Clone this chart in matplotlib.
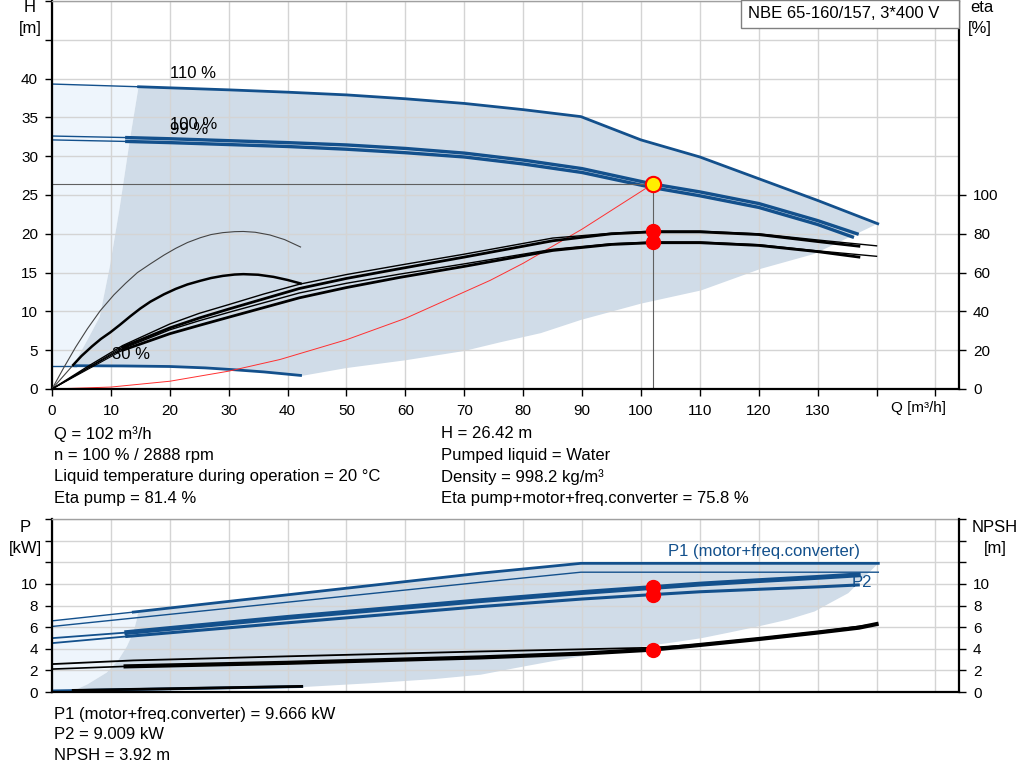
import matplotlib
matplotlib.use('Agg')
from matplotlib import pyplot as plt
from matplotlib.patches import Rectangle

plt.rcParams['font.family'] = ['Liberation Sans', 'DejaVu Sans']
plt.rcParams['font.size'] = 12

blue = '#13508c'
shade = '#d0dce8'
light = '#eef5fc'
gridc = '#d4d4d4'

# ---- head curves (Q m3/h, H m)
q110 = [0, 14.7, 30, 40, 50, 60, 70, 80, 89.8, 100, 110, 120, 130, 140.2]
h110 = [39.3, 38.95, 38.55, 38.25, 37.9, 37.4, 36.8, 36.0, 35.1, 32.1, 29.9, 27.1, 24.3, 21.3]
q100_thin = [0, 12.7]
h100_thin = [32.6, 32.4]
q100 = [12.7, 20, 30, 40, 50, 60, 70, 80, 90, 102, 110, 120, 130, 136.7]
h100 = [32.4, 32.25, 32.0, 31.75, 31.45, 31.0, 30.4, 29.5, 28.4, 26.42, 25.4, 23.9, 21.7, 20.0]
q99_thin = [0, 12.7]
h99_thin = [32.1, 31.9]
q99 = [12.7, 20, 30, 40, 50, 60, 70, 80, 90, 102, 110, 120, 130, 135.9]
h99 = [31.9, 31.75, 31.5, 31.25, 30.9, 30.45, 29.9, 29.0, 27.9, 25.95, 24.9, 23.4, 21.2, 19.6]
q30_thin = [0, 4]
h30_thin = [3.0, 3.0]
q30 = [4, 12, 20, 26, 30.6, 36, 42.2]
h30 = [3.0, 2.97, 2.9, 2.72, 2.5, 2.2, 1.75]

# operating range boundaries
q_low = [42.5, 50, 60, 70, 76, 83, 89.8, 100, 110.2, 120.4, 129.4, 140.2]
h_low = [1.7, 2.7, 3.7, 4.9, 6.0, 7.2, 8.9, 11.0, 12.7, 15.5, 17.4, 21.3]
q_left = [3.6, 6, 8.1, 9.8, 11.5, 13.2, 14.7]
h_left = [3.0, 6.3, 9.3, 15.7, 23.4, 32.0, 38.95]

# system curve
q_sys = [0, 10, 20, 30, 38.7, 50, 60, 74.4, 80, 90, 102]
h_sys = [0, 0.25, 1.0, 2.3, 3.8, 6.35, 9.1, 14.0, 16.2, 20.6, 26.42]

# efficiency curves (eta %)
q_ep100 = [0, 6, 12, 20, 25, 30, 36, 42, 50, 59, 70, 85, 95, 102, 110, 120, 130, 140]
e_ep100 = [0, 11.5, 22.4, 33.5, 39, 43.5, 49, 54, 59, 63.8, 69.5, 77.8, 80.3, 81.4, 81.4, 80.0, 76.8, 73.8]
q_ep99 = [12, 20, 25, 30, 36, 42, 50, 59, 70, 85, 95, 102, 110, 120, 130, 137]
e_ep99 = [21.6, 31.5, 36.6, 41.2, 46.5, 51.8, 57, 62, 68, 76.4, 80, 81.0, 81.0, 79.6, 76.0, 73.6]
q_et100 = [0, 6, 12, 20, 25, 30, 36, 42, 50, 59, 70, 85, 95, 102, 110, 120, 130, 140]
e_et100 = [0, 10.6, 20.8, 30.5, 35.2, 39.5, 44.5, 49.5, 54.5, 59.2, 64.5, 72, 74.9, 75.8, 75.8, 74.4, 71.2, 68.4]
q_et99 = [12, 20, 25, 30, 36, 42, 50, 59, 70, 85, 95, 102, 110, 120, 130, 137]
e_et99 = [20.0, 28.5, 32.8, 37, 42, 47, 52.3, 57.5, 63.2, 71.4, 74.5, 75.4, 75.4, 74.0, 70.8, 68.0]
q_ep30 = [0, 2, 4, 6, 8.2, 10.5, 12.5, 14.5, 16.7, 19, 21, 23, 25.2, 27, 29, 31, 32.5, 34.5, 37, 39.5, 42.2]
e_ep30 = [0, 11, 21.5, 31, 40.4, 48.5, 54.5, 60, 64.5, 69, 72.5, 75.5, 78, 79.6, 80.6, 81.1, 81.2, 80.8, 79.4, 77, 73.2]
q_et30 = [3.6, 5, 6.8, 8.3, 9.9, 11.5, 13.3, 15, 16.7, 19, 21, 23, 25.2, 27, 29, 31, 32.5, 35, 37.6, 40, 42.2]
e_et30 = [12.4, 17, 22, 25.8, 29.2, 33, 37.5, 41.5, 45, 48.8, 51.6, 53.9, 55.8, 57.2, 58.3, 59, 59.2, 58.9, 57.8, 56.2, 54.4]

q_op = 102
h_op = 26.42
eta_pump = 81.4
eta_tot = 75.8

# ---- power / NPSH curves
q_pmax_thin = [0, 13.8]
p_pmax_thin = [6.58, 7.39]
q_pmax = [13.8, 30, 50, 72.8, 89.8, 140.3]
p_pmax = [7.39, 8.38, 9.6, 10.99, 11.9, 11.9]
q_p2max = [0, 72.8, 89.8, 140.3]
p_p2max = [6.06, 10.15, 11.08, 11.08]
q_p1_thin = [0, 12.7]
p_p1_thin = [4.98, 5.5]
q_p1 = [12.7, 40, 72.8, 90, 102, 110, 120, 130, 136.9]
p_p1 = [5.5, 6.9, 8.45, 9.2, 9.666, 9.98, 10.3, 10.6, 10.83]
q_p2_thin = [0, 12.7]
p_p2_thin = [4.52, 5.14]
q_p2 = [12.7, 40, 72.8, 90, 102, 110, 120, 130, 136.9]
p_p2 = [5.14, 6.4, 7.9, 8.6, 9.009, 9.27, 9.5, 9.72, 9.9]
q_np_up = [0, 13.8, 40, 72.8, 90, 102, 110, 120, 130, 140]
n_np_up = [2.58, 2.92, 3.3, 3.75, 3.95, 4.1, 4.4, 4.95, 5.55, 6.28]
q_np_thin = [0, 12.5]
n_np_thin = [2.12, 2.37]
q_np = [12.5, 40, 72.8, 90, 102, 110, 120, 130, 137, 140]
n_np = [2.37, 2.7, 3.2, 3.55, 3.92, 4.35, 4.9, 5.5, 5.95, 6.28]
q_p30 = [0, 42.4]
p_p30 = [0.1, 0.5]

q_plow = [140.3, 137.5, 135.2, 132, 129.5, 125, 119.9, 115, 110.3, 105, 100, 95,
          89.8, 85, 80.2, 72.8, 65, 54.7, 42.4]
p_plow = [11.9, 10.4, 9.14, 8.2, 7.45, 6.7, 6.06, 5.5, 4.98, 4.55, 4.18, 3.75,
          3.29, 2.85, 2.37, 1.6, 1.2, 0.83, 0.45]
q_pleft = [3.6, 6, 9.3, 11.2, 12.7, 13.8, 14.4, 14.6]
p_pleft = [0.1, 0.7, 1.8, 2.9, 4.2, 5.5, 6.7, 7.4]

p1_op = 9.666
p2_op = 9.009
npsh_op = 3.92

W, H = 1024, 781
fig = plt.figure(figsize=(W / 100, H / 100), dpi=100)


def frac(l, t, r, b):
    return [l / W, 1 - b / H, (r - l) / W, (b - t) / H]


def style(a, yticks, nlab, xlabels):
    a.set_xlim(0, 154)
    a.set_xticks(range(0, 151, 10))
    if xlabels:
        a.set_xticklabels([str(v) if v <= 130 else '' for v in range(0, 151, 10)])
        a.tick_params(axis='x', direction='out', length=5, width=1, pad=6, labelsize=11)
    else:
        a.set_xticklabels([])
        a.tick_params(axis='x', length=0)
    a.set_yticks(yticks)
    a.set_yticklabels([str(v) if i < nlab else '' for i, v in enumerate(yticks)])
    a.tick_params(axis='y', direction='out', length=5, width=1, pad=5, labelsize=11)
    a.grid(True, color=gridc, lw=1)
    a.spines['left'].set_linewidth(1.6)
    a.spines['bottom'].set_linewidth(1.6)
    a.spines['top'].set_color('#a0a0a0')
    a.spines['top'].set_linewidth(1)
    a.spines['right'].set_visible(False)


# ================= top chart =================
ax = fig.add_axes(frac(52, 1, 959, 389))
ax.set_ylim(0, 50)
style(ax, list(range(0, 51, 5)), 9, True)

ax.fill(q_left[::-1] + [0, 0] + [14.7], h_left[::-1] + [3.0, 39.3] + [38.95],
        color=light, lw=0, zorder=0.5)
top_q = [q for q in q110 if q >= 14.7]
top_h = [h for q, h in zip(q110, h110) if q >= 14.7]
ax.fill(top_q + q_low[::-1] + q30[::-1] + q_left,
        top_h + h_low[::-1] + h30[::-1] + h_left, color=shade, lw=0, zorder=0.6)

ax.plot(q110[:2], h110[:2], color=blue, lw=1)
ax.plot(q110[1:], h110[1:], color=blue, lw=2)
ax.plot(q100_thin, h100_thin, color=blue, lw=1)
ax.plot(q100, h100, color=blue, lw=2.4)
ax.plot(q99_thin, h99_thin, color=blue, lw=1)
ax.plot(q99, h99, color=blue, lw=2.4)
ax.plot(q30_thin, h30_thin, color=blue, lw=1)
ax.plot(q30, h30, color=blue, lw=2)

ax.plot(q_sys, h_sys, color='#ff3030', lw=0.7)
ax.plot([0, q_op], [h_op, h_op], color='#606060', lw=0.8)
ax.plot([q_op, q_op], [0, h_op], color='#606060', lw=0.8)

ax.text(20, 40.6, '110 %', va='center')
ax.text(20, 34.1, '100 %', va='center')
ax.text(20, 33.5, '99 %', va='center')
ax.text(10.2, 4.4, '30 %', va='center')
ax.text(142.5, -2.5, 'Q [m³/h]', va='center', fontsize=11)

ax2 = ax.twinx()
ax2.set_ylim(0, 200)
ax2.set_yticks(range(0, 101, 20))
ax2.tick_params(axis='y', direction='out', length=5, width=1, pad=5, labelsize=11)
for s in ['left', 'top', 'bottom']:
    ax2.spines[s].set_visible(False)
ax2.spines['right'].set_linewidth(1.6)

ax2.plot(q_ep30, e_ep30, color='#444444', lw=0.8)
ax2.plot([0, 3.6], [0, 12.4], color='#444444', lw=0.8)
ax2.plot(q_et30, e_et30, color='black', lw=1.8)
ax2.plot(q_ep100, e_ep100, color='black', lw=1.0)
ax2.plot([0, 12], [0, 21.6], color='black', lw=0.8)
ax2.plot(q_ep99, e_ep99, color='black', lw=2.0)
ax2.plot(q_et100, e_et100, color='black', lw=1.0)
ax2.plot([0, 12], [0, 20.0], color='black', lw=0.8)
ax2.plot(q_et99, e_et99, color='black', lw=2.0)
ax2.plot([q_op, q_op], [eta_pump, eta_tot], 'o', color='red', ms=10, zorder=5)
ax2.plot([q_op], [h_op * 4], 'o', mfc='#ffee00', mec='red', mew=1.5, ms=11, zorder=6)

# ================= bottom chart =================
bx = fig.add_axes(frac(52, 519, 959, 692))
bx.set_ylim(0, 16)
style(bx, list(range(0, 17, 2)), 6, False)

bx.fill(q_pleft[::-1] + [0, 0, 14.6], p_pleft[::-1] + [0, 6.58, 7.4],
        color=light, lw=0, zorder=0.5)
bx.fill(q_pmax + q_plow + q_p30[::-1] + [3.6] + q_pleft,
        p_pmax + p_plow + p_p30[::-1] + [0.1] + p_pleft,
        color=shade, lw=0, zorder=0.6)

bx.plot(q_pmax_thin, p_pmax_thin, color=blue, lw=1)
bx.plot(q_pmax, p_pmax, color=blue, lw=2)
bx.plot(q_p2max, p_p2max, color=blue, lw=1)
bx.plot(q_p1_thin, p_p1_thin, color=blue, lw=1.3)
bx.plot(q_p1, p_p1, color=blue, lw=3.5)
bx.plot(q_p2_thin, p_p2_thin, color=blue, lw=1.3)
bx.plot(q_p2, p_p2, color=blue, lw=2.2)
bx.plot(q_p30, p_p30, color=blue, lw=2)
bx.plot([3.6, 42.4], [0.15, 0.52], color='black', lw=2)
bx.plot(q_np_up, n_np_up, color='black', lw=1.3)
bx.plot(q_np_thin, n_np_thin, color='black', lw=1.2)
bx.plot(q_np, n_np, color='black', lw=3)

bx.text(104.6, 12.95, 'P1 (motor+freq.converter)', color=blue, va='center')
bx.text(135.8, 10.1, 'P2', color=blue, va='center')

bx2 = bx.twinx()
bx2.set_ylim(0, 16)
bx2.set_yticks(range(0, 17, 2))
bx2.set_yticklabels([str(v) if v <= 10 else '' for v in range(0, 17, 2)])
bx2.tick_params(axis='y', direction='out', length=5, width=1, pad=5, labelsize=11)
for s in ['left', 'top', 'bottom']:
    bx2.spines[s].set_visible(False)
bx2.spines['right'].set_linewidth(1.6)
bx2.plot([q_op, q_op, q_op], [p1_op, p2_op, npsh_op], 'o', color='red', ms=10, zorder=5)

# ================= texts =================
def ftext(x, y, s, **kw):
    fig.text(x / W, 1 - y / H, s, va='center', **kw)


ftext(30, 8, 'H', ha='center')
ftext(30, 28, '[m]', ha='center')
ftext(982, 8, 'eta', ha='center')
ftext(980, 28, '[%]', ha='center')
ftext(25, 527, 'P', ha='center')
ftext(25, 548, '[kW]', ha='center')
ftext(995, 527, 'NPSH', ha='center')
ftext(995, 548, '[m]', ha='center')

fig.add_artist(Rectangle((741 / W, 1 - 28 / H), (959 - 741) / W, 28 / H,
                         transform=fig.transFigure, facecolor='white',
                         edgecolor='#808080', lw=1, zorder=10))
ftext(748, 14, 'NBE 65-160/157, 3*400 V', zorder=11)

left_lines = ['Q = 102 m³/h', 'n = 100 % / 2888 rpm',
              'Liquid temperature during operation = 20 °C', 'Eta pump = 81.4 %']
right_lines = ['H = 26.42 m', 'Pumped liquid = Water', 'Density = 998.2 kg/m³',
               'Eta pump+motor+freq.converter = 75.8 %']
for i, s in enumerate(left_lines):
    ftext(54, 434 + 21.5 * i, s)
for i, s in enumerate(right_lines):
    ftext(441, 434 + 21.5 * i, s)
bottom_lines = ['P1 (motor+freq.converter) = 9.666 kW', 'P2 = 9.009 kW', 'NPSH = 3.92 m']
for i, s in enumerate(bottom_lines):
    ftext(54, 714 + 20.5 * i, s)

plt.savefig('out.png', dpi=100)
